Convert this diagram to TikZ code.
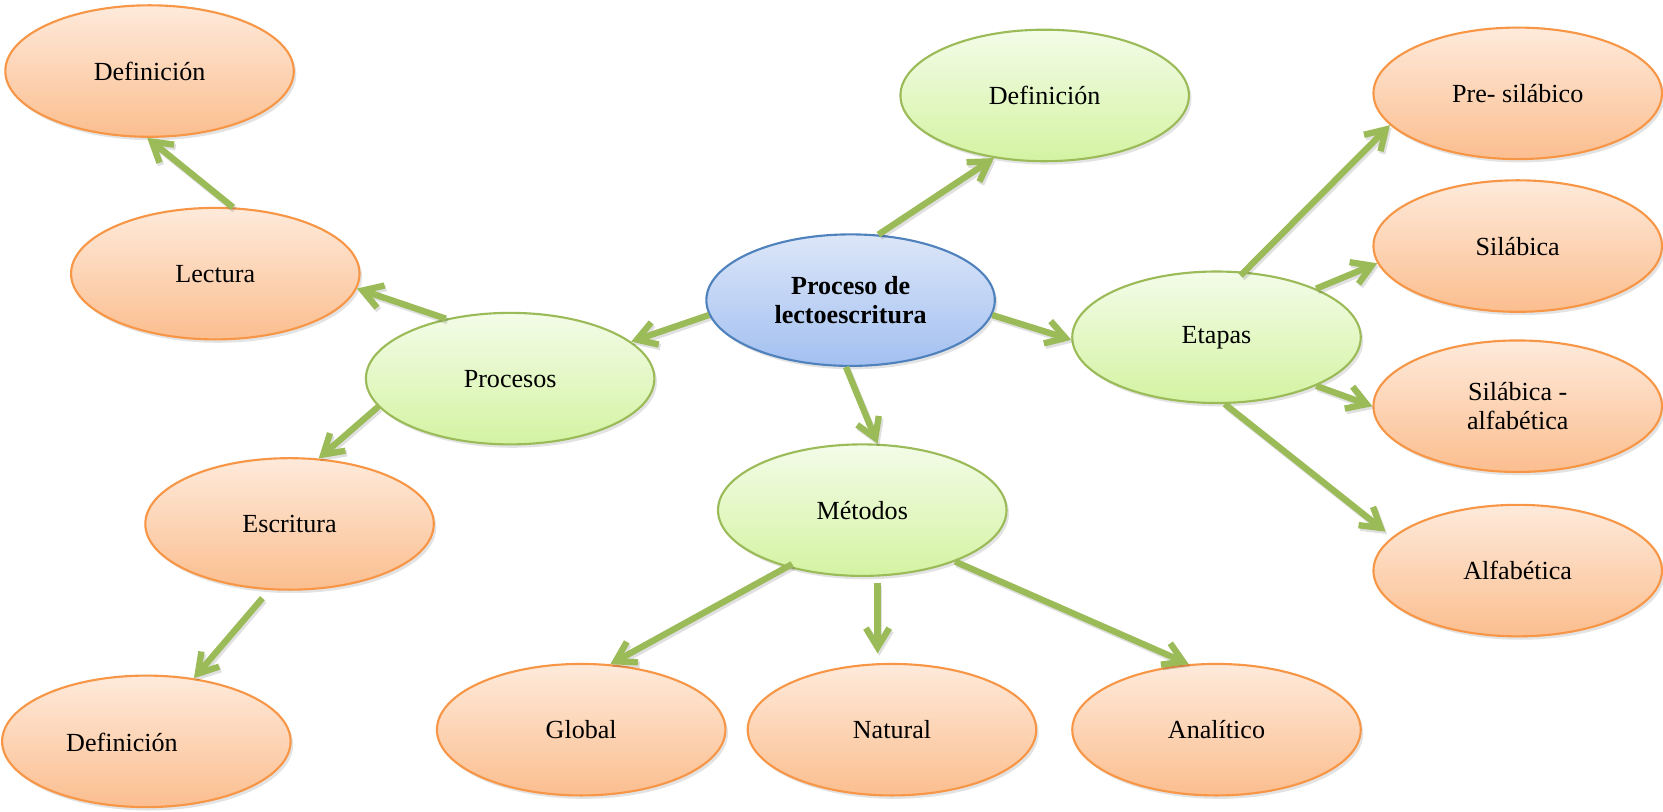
\documentclass[tikz,border=0pt]{standalone}
\usepackage{fontspec}
\setmainfont{Liberation Serif}
\usetikzlibrary{shapes.geometric,arrows.meta,shadows}
\definecolor{orBorder}{HTML}{F79646}
\definecolor{orTop}{HTML}{FEEADB}
\definecolor{orBot}{HTML}{FBBE8F}
\definecolor{grBorder}{HTML}{9BBB59}
\definecolor{grTop}{HTML}{F3FCE8}
\definecolor{grBot}{HTML}{D4F3A2}
\definecolor{blBorder}{HTML}{4F81BD}
\definecolor{blTop}{HTML}{DCE6F8}
\definecolor{blBot}{HTML}{A3C0F1}
\definecolor{lineGreen}{HTML}{9BBB59}
\tikzset{
  bubble/.style={ellipse, inner sep=0pt, minimum width=136pt, minimum height=62pt,
    line width=1pt, align=center, font=\fontsize{12.3}{14}\selectfont,
    drop shadow={opacity=0.22, shadow xshift=1.2pt, shadow yshift=-1.6pt}},
  orangeb/.style={bubble, draw=orBorder, top color=orTop, bottom color=orBot},
  greenb/.style={bubble, draw=grBorder, top color=grTop, bottom color=grBot},
  blueb/.style={bubble, draw=blBorder, top color=blTop, bottom color=blBot},
  txt/.style={font=\fontsize{12.3}{14}\selectfont, inner sep=0pt},
  conn/.style={draw=lineGreen, line width=3pt,
    -{Straight Barb[length=9pt,width=11pt]},
    preaction={draw=black, draw opacity=0.12, line width=3pt,
      transform canvas={shift={(0.8pt,-1.2pt)}}}},
}
\begin{document}
\begin{tikzpicture}[x=0.5pt,y=-0.5pt]
\useasboundingbox (0,0) rectangle (1568,765);
% nodes
\node[blueb, font=\fontsize{12.3}{14}\selectfont\bfseries] (center) at (802,283) {Proceso de\\lectoescritura};
\node[greenb] (defTM) at (985,90) {Definición};
\node[greenb] (proc) at (481,357) {Procesos};
\node[greenb] (etapas) at (1147,318) {Etapas};
\node[greenb] (metodos) at (813,481) {Métodos};
\node[orangeb] (defTL) at (141,67) {Definición};
\node[orangeb] (lect) at (203,258) {Lectura};
\node[orangeb] (escr) at (273,494) {Escritura};
\node[orangeb] (defBL) at (138,699) {};
\node[txt] (defBLtext) at (115,700) {Definición};
\node[orangeb] (global) at (548,688) {Global};
\node[orangeb] (natural) at (841,688) {Natural};
\node[orangeb] (analitico) at (1147,688) {Analítico};
\node[orangeb] (pre) at (1431,88) {Pre- silábico};
\node[orangeb] (sil) at (1431,232) {Silábica};
\node[orangeb] (silalf) at (1431,383) {Silábica -\\alfabética};
\node[orangeb] (alf) at (1431,538) {Alfabética};
% connectors
\draw[conn] (lect.75) -- (defTL.268);
\draw[conn] (proc.137) -- (lect.-6);
\draw[conn] (center.186) -- (proc.17);
\draw[conn] (proc.192) -- (escr.66);
\draw[conn, shorten <=5pt] (escr.253) -- (defBL.53);
\draw[conn] (center.67) -- (defTM.231);
\draw[conn] (center.-6) -- (etapas.181);
\draw[conn] (center.266) -- (metodos.77);
\draw[conn, shorten <=-2.5pt] (etapas.67) -- (pre.194);
\draw[conn] (etapas.26) -- (sil.187);
\draw[conn] (etapas.-26) -- (silalf.180);
\draw[conn, shorten >=4pt] (etapas.277) -- (alf.165);
\draw[conn, shorten <=-3pt] (metodos.217) -- (global.66);
\draw[conn, shorten <=3pt, shorten >=4.5pt] (metodos.283) -- (metodos.283 |- natural.north);
\draw[conn] (metodos.-29) -- (analitico.113);
\end{tikzpicture}
\end{document}
